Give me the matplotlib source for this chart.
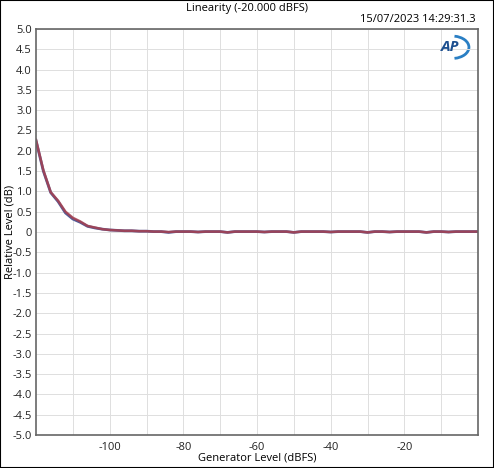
import matplotlib.pyplot as plt
import numpy as np
from matplotlib.patches import Arc

gen_level = list(range(-120, 1, 2))
blue_db = [2.25, 1.50, 0.97, 0.75, 0.47, 0.32, 0.24, 0.14, 0.10, 0.07,
           0.05, 0.04, 0.03, 0.03, 0.02, 0.02, 0.01, 0.01, -0.01, 0.01,
           0.01, 0.01, 0.00, 0.01, 0.01, 0.01, -0.01, 0.01, 0.01, 0.01,
           0.01, 0.00, 0.01, 0.01, 0.01, -0.01, 0.01, 0.01, 0.01, 0.01,
           0.00, 0.01, 0.01, 0.01, 0.01, -0.01, 0.01, 0.01, 0.00, 0.01,
           0.01, 0.01, 0.01, -0.01, 0.01, 0.01, 0.00, 0.01, 0.01, 0.01, 0.01]
red_db = [2.27, 1.52, 0.98, 0.77, 0.50, 0.35, 0.26, 0.15, 0.11, 0.07,
          0.05, 0.04, 0.03, 0.03, 0.02, 0.02, 0.01, 0.01, 0.00, 0.01,
          0.01, 0.01, 0.00, 0.01, 0.01, 0.01, -0.01, 0.01, 0.01, 0.01,
          0.01, 0.00, 0.01, 0.01, 0.01, -0.01, 0.01, 0.01, 0.01, 0.01,
          0.00, 0.01, 0.01, 0.01, 0.01, -0.01, 0.01, 0.01, 0.00, 0.01,
          0.01, 0.01, 0.01, -0.01, 0.01, 0.01, 0.00, 0.01, 0.01, 0.01, 0.01]
x_ticks = [-100, -80, -60, -40, -20]
y_ticks = [v / 2 for v in range(-10, 11)]

plt.rcParams['font.family'] = ['Open Sans', 'DejaVu Sans']
plt.rcParams['axes.unicode_minus'] = False

fig = plt.figure(figsize=(4.94, 4.68), dpi=100)
ax = fig.add_axes([36 / 494, 1 - 435 / 468, (478 - 36) / 494, (435 - 29) / 468])

ax.plot(gen_level, blue_db, color='#4f5d9a', lw=2.0)
ax.plot(gen_level, red_db, color='#a8404f', lw=1.8, alpha=0.85)

ax.set_xlim(-120, 0)
ax.set_ylim(-5, 5)
ax.set_xticks(x_ticks)
ax.set_xticks(range(-110, 0, 10), minor=True)
ax.set_yticks(y_ticks)
ax.set_yticklabels(['0' if v == 0 else f'{v:.1f}' for v in y_ticks])
ax.grid(True, which='both', color='#dedede', lw=0.7)
ax.tick_params(which='both', length=0, labelsize=8, colors='#222222', pad=3)
ax.tick_params(axis='x', pad=5)
for s in ax.spines.values():
    s.set_color('#666666')
    s.set_linewidth(1.2)

fig.text(257 / 494, 1 - 458 / 468, 'Generator Level (dBFS)', ha='center', va='center', fontsize=8)
fig.text(10 / 494, 1 - 232 / 468, 'Relative Level (dB)', rotation=90,
         ha='center', va='center', fontsize=8)
fig.text(0.5, 1 - 8 / 468, 'Linearity (-20.000 dBFS)', ha='center', va='center', fontsize=8)
fig.text(476 / 494, 1 - 20 / 468, '15/07/2023 14:29:31.3', ha='right', va='center', fontsize=8)

# AP logo
ax.text(0.936, 0.955, 'AP', transform=ax.transAxes, ha='center', va='center',
        fontsize=11, fontweight='bold', style='italic', color='#1d4f8f')
ax.add_patch(Arc((0.942, 0.955), 0.075, 0.055, theta1=-80, theta2=80,
                 transform=ax.transAxes, color='#2a7fc4', lw=2))

fig.patches.append(plt.Rectangle((0, 0), 1, 1, transform=fig.transFigure,
                                 fill=False, ec='black', lw=1.5))
fig.savefig('out.png', dpi=100)
